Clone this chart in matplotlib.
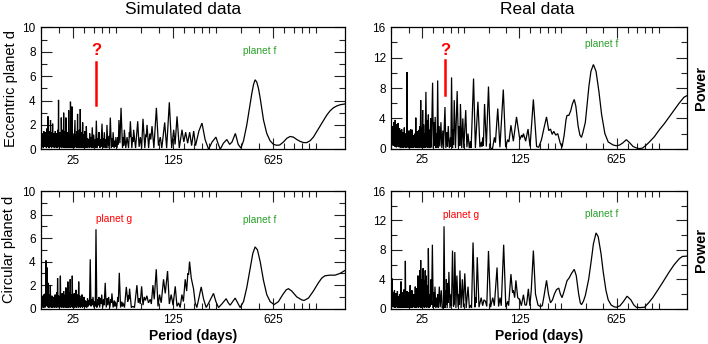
import matplotlib
matplotlib.use("Agg")
import matplotlib.pyplot as plt
from matplotlib.ticker import FixedLocator, NullFormatter

plt.rcParams['font.family'] = ['Liberation Sans', 'DejaVu Sans']

# ---------------- data (period in days, power) ----------------
tl_period = [15.0, 15.1, 15.2, 15.3, 15.4, 15.5, 15.6, 15.7, 15.8, 15.9, 16.0, 16.1, 16.2, 16.3, 16.4, 16.5, 16.6, 16.65,
             16.7, 16.8, 16.9, 17.0, 17.1, 17.2, 17.3, 17.35, 17.4, 17.5, 17.6, 17.7, 17.8, 17.9, 18.0, 18.1, 18.2, 18.3,
             18.4, 18.5, 18.6, 18.7, 18.8, 18.9, 19.0, 19.1, 19.2, 19.3, 19.4, 19.5, 19.6, 19.7, 19.8, 19.9, 20.0, 20.15,
             20.3, 20.45, 20.6, 20.65, 20.7, 20.85, 21.0, 21.15, 21.3, 21.4, 21.5, 21.65, 21.8, 21.95, 22.1, 22.2, 22.3,
             22.45, 22.6, 22.75, 22.9, 23.05, 23.2, 23.25, 23.3, 23.45, 23.6, 23.75, 23.9, 23.95, 24.0, 24.15, 24.3, 24.45,
             24.6, 24.75, 24.9, 25.1, 25.3, 25.45, 25.8, 26.0, 26.2, 26.4, 26.6, 26.75, 26.9, 27.1, 27.3, 27.5, 27.7, 27.9,
             28.1, 28.3, 28.5, 28.7, 28.9, 29.0, 29.2, 29.45, 29.7, 29.95, 30.2, 30.45, 30.7, 30.85, 31.0, 31.3, 31.6, 31.9,
             32.3, 32.5, 32.7, 33.0, 33.3, 33.6, 34.1, 34.5, 34.9, 35.3, 35.8, 36.0, 36.4, 36.9, 37.5, 37.7, 38.0, 38.5,
             38.9, 39.2, 39.9, 40.4, 40.9, 41.1, 41.4, 42.0, 42.5, 42.8, 43.2, 43.9, 44.6, 45.0, 45.6, 46.4, 47.0, 47.3,
             47.7, 48.5, 49.2, 49.5, 49.9, 50.8, 51.6, 51.9, 52.4, 53.2, 54.2, 55.5, 56.3, 56.6, 57.2, 58.5, 59.7, 61.2,
             62.0, 62.3, 63.0, 64.5, 65.4, 65.8, 66.4, 68.5, 70.9, 72.5, 74.0, 75.5, 77.2, 79.5, 80.8, 81.3, 82.4, 84.5,
             86.2, 87.5, 89.3, 92.0, 95.8, 99.0, 102.0, 104.5, 109.5, 113.0, 118.0, 122.5, 126.6, 129.5, 133.6, 138.5,
             144.7, 149.0, 153.5, 158.5, 163.8, 169.0, 174.7, 180.0, 190.0, 199.7, 210.0, 222.0, 235.0, 250.0, 260.0,
             268.0, 282.0, 298.0, 312.0, 324.0, 342.0, 358.0, 374.0, 390.0, 411.0, 434.0, 446.0, 458.0, 470.0, 483.0,
             496.0, 510.0, 524.0, 538.0, 567.0, 598.0, 632.0, 666.0, 698.0, 742.0, 783.0, 826.0, 871.0, 920.0, 970.0,
             1024.0, 1080.0, 1140.0, 1202.0, 1269.0, 1339.0, 1412.0, 1490.0, 1572.0, 1659.0, 1750.0, 1848.0, 2000.0]
tl_power = [1.0, 0.2, 1.3, 0.4, 1.1, 0.1, 1.5, 0.3, 0.9, 0.2, 1.4, 0.5, 1.2, 0.1, 1.7, 0.3, 1.0, 0.2,
            2.7, 0.3, 1.3, 0.1, 1.1, 0.4, 1.5, 0.2, 2.4, 0.3, 1.2, 0.1, 1.4, 0.5, 2.1, 0.2, 1.0, 0.4,
            1.3, 0.1, 1.1, 0.3, 1.5, 0.2, 0.9, 0.1, 1.3, 0.4, 1.0, 0.1, 1.6, 0.3, 4.05, 0.2, 1.2, 0.1,
            1.4, 0.3, 1.1, 0.2, 2.6, 0.1, 1.3, 0.4, 1.6, 0.2, 3.0, 0.1, 1.2, 0.3, 1.5, 0.1, 2.6,
            0.2, 1.0, 0.1, 1.4, 0.3, 1.1, 0.2, 3.2, 0.1, 1.3, 0.4, 1.0, 0.2, 3.9, 0.1, 1.2, 0.2,
            3.5, 0.1, 1.3, 0.3, 1.0, 0.1, 2.4, 0.2, 1.2, 0.1, 1.5, 0.3, 2.9, 0.1, 1.3, 0.2, 1.6, 0.1,
            3.3, 0.2, 1.1, 0.1, 1.4, 0.3, 2.2, 0.1, 1.2, 0.2, 1.5, 0.1, 1.0, 0.2, 1.9, 0.1, 0.9, 0.2,
            0.8, 0.1, 1.3, 0.2, 1.0, 0.1, 1.8, 0.1, 1.2, 0.2, 0.8, 0.1, 2.35, 0.1, 0.9, 0.3, 1.4, 0.1,
            0.8, 0.2, 2.1, 0.1, 0.9, 0.2, 1.4, 0.1, 0.8, 0.1, 2.0, 0.1, 1.1, 0.3, 2.6, 0.1, 0.9, 0.2,
            1.4, 0.1, 0.7, 0.2, 1.0, 0.1, 1.0, 0.4, 2.4, 0.5, 3.4, 0.1, 1.0, 0.3, 1.6, 0.1, 1.0, 0.1,
            1.4, 1.0, 2.3, 0.1, 1.0, 0.6, 1.6, 0.1, 2.3, 0.2, 1.0, 0.1, 2.5, 0.1, 1.2, 1.0, 2.0, 0.1,
            1.3, 0.8, 1.9, 0.1, 3.4, 0.3, 1.0, 0.1, 2.2, 0.1, 3.85, 0.1, 1.6, 0.4, 2.7, 0.1,
            1.6, 0.6, 1.4, 0.5, 1.4, 0.3, 1.5, 0.3, 1.5, 2.15, 0.8, 0.0, 0.6, 1.0, 0.4,
            0.0, 0.5, 0.8, 0.4, 0.6, 1.3, 0.4, 0.1, 0.7, 2.0, 3.7, 4.6, 5.3, 5.7, 5.5,
            5.0, 4.2, 3.3, 2.4, 1.3, 0.7, 0.4, 0.33, 0.35, 0.6, 0.9, 1.05, 1.0, 0.8, 0.65,
            0.55, 0.55, 0.7, 1.0, 1.45, 1.9, 2.35, 2.8, 3.15, 3.4, 3.55, 3.65, 3.72]

tr_period = [15.0, 15.2, 15.4, 15.5, 15.6, 15.7, 15.8, 15.9, 16.0, 16.1, 16.2, 16.3, 16.4, 16.5, 16.6, 16.7, 16.8, 16.9,
             17.0, 17.1, 17.2, 17.3, 17.4, 17.5, 17.6, 17.7, 17.8, 17.9, 18.0, 18.1, 18.2, 18.3, 18.4, 18.5, 18.6, 18.7,
             18.8, 18.9, 19.0, 19.1, 19.2, 19.3, 19.45, 19.6, 19.7, 19.8, 19.9, 20.0, 20.1, 20.2, 20.35, 20.5, 20.65,
             20.8, 20.95, 21.1, 21.25, 21.4, 21.55, 21.7, 21.85, 22.0, 22.2, 22.35, 22.5, 22.65, 22.8, 22.95, 23.1,
             23.25, 23.4, 23.55, 23.7, 23.85, 24.0, 24.2, 24.4, 24.6, 24.8, 25.0, 25.2, 25.4, 25.6, 25.8, 26.0, 26.2,
             26.6, 26.9, 27.2, 27.45, 27.7, 27.95, 28.2, 28.5, 28.8, 29.1, 29.7, 30.1, 30.5, 30.7, 31.0, 31.4, 31.8,
             32.0, 32.3, 32.7, 33.1, 33.5, 34.1, 34.6, 35.2, 35.6, 36.45, 37.0, 37.6, 38.0, 38.5, 39.2, 40.0, 40.2,
             40.65, 41.3, 41.8, 42.0, 42.5, 43.4, 44.6, 45.6, 46.3, 46.6, 47.1, 48.1, 49.0, 49.8, 51.4, 52.4, 53.4,
             54.5, 55.6, 56.2, 58.5, 60.3, 62.9, 65.0, 66.6, 67.2, 68.2, 68.8, 70.2, 72.3, 74.9, 77.5, 80.0, 82.6,
             84.0, 87.3, 90.5, 95.7, 99.5, 102.8, 105.0, 108.6, 113.0, 119.1, 125.8, 129.5, 131.5, 133.6, 138.5,
             144.1, 149.0, 157.4, 166.0, 172.0, 180.0, 188.0, 195.7, 203.0, 209.0, 215.0, 220.7, 228.0, 235.6, 245.0,
             253.0, 262.0, 270.0, 274.6, 283.0, 292.0, 300.0, 309.6, 318.0, 330.0, 340.0, 349.0, 358.0, 372.0, 385.0,
             395.0, 408.0, 425.0, 444.0, 466.0, 487.0, 514.0, 543.0, 589.0, 622.0, 657.0, 694.0, 733.0, 774.0, 820.0,
             870.0, 912.0, 960.0, 1020.0, 1074.0, 1166.0, 1265.0, 1373.0, 1490.0, 1618.0, 1755.0, 1905.0, 2000.0]
tr_power = [2.5, 0.5, 3.0, 0.4, 3.5, 0.8, 2.2, 0.3, 3.8, 0.6, 2.6, 0.2, 3.2, 1.0, 2.0, 0.3, 3.4, 0.5,
            1.8, 0.2, 2.7, 0.6, 1.5, 0.1, 2.4, 0.4, 2.6, 0.2, 1.6, 0.5, 2.2, 0.1, 1.4, 0.3, 2.8, 0.2,
            1.2, 0.4, 2.0, 0.1, 1.3, 0.2, 10.1, 0.2, 1.6, 0.3, 1.1, 0.1, 2.4, 0.2, 1.3, 0.1, 2.6,
            0.3, 1.4, 0.1, 2.5, 0.2, 1.8, 0.1, 1.2, 0.3, 2.0, 0.2, 4.1, 0.1, 1.5, 0.3, 2.3,
            0.1, 1.2, 0.4, 2.5, 0.1, 3.0, 0.3, 6.4, 0.1, 2.8, 0.4, 5.1, 0.1, 3.2, 0.2, 2.0, 0.1,
            7.5, 0.2, 3.8, 0.1, 4.5, 0.3, 2.5, 0.1, 4.0, 0.2, 8.7, 0.1, 3.5, 0.4, 4.2, 0.1, 2.0,
            0.2, 9.0, 0.1, 3.0, 0.3, 3.5, 0.1, 2.4, 0.2, 5.5, 0.1, 2.2, 0.3, 3.0, 0.1, 1.5, 0.3,
            9.4, 0.1, 2.5, 0.5, 6.4, 0.1, 7.6, 0.2, 3.0, 0.4, 5.9, 0.1, 4.0, 0.1, 5.1, 0.2, 2.0,
            0.1, 1.0, 0.1, 9.25, 0.1, 6.2, 0.2, 0.9, 0.3, 1.5, 0.4, 5.9, 0.3, 8.2, 0.1, 0.0, 1.5,
            0.8, 5.3, 0.2, 7.8, 0.2, 1.2, 0.9, 3.1, 1.0, 4.2, 1.2, 1.8, 1.5, 2.0, 1.0,
            2.6, 0.3, 6.5, 0.3, 0.2, 1.2, 2.8, 4.2, 2.4, 2.6, 1.9, 2.3, 1.8, 2.0, 0.8,
            0.2, 1.8, 3.8, 4.4, 4.4, 5.0, 5.9, 6.5, 5.6, 3.0, 1.8, 1.5, 2.2, 3.5, 6.2,
            8.3, 10.2, 11.1, 10.2, 7.5, 4.5, 2.0, 0.9, 0.5, 0.4, 0.5, 0.8, 1.2, 0.8, 0.3,
            0.1, 0.02, 0.1, 0.5, 0.9, 1.6, 2.5, 3.3, 4.2, 5.1, 6.0, 6.8, 7.0]

bl_period = [15.0, 15.1, 15.2, 15.3, 15.4, 15.5, 15.6, 15.7, 15.8, 15.9, 16.0, 16.08, 16.18, 16.3, 16.44, 16.55, 16.7,
             16.8, 16.9, 17.0, 17.1, 17.2, 17.35, 17.45, 17.6, 17.7, 17.8, 17.9, 18.0, 18.1, 18.3, 18.4, 18.5, 18.6,
             18.75, 18.85, 19.0, 19.1, 19.3, 19.4, 19.5, 19.65, 19.8, 19.95, 20.1, 20.2, 20.4, 20.55, 20.7, 20.85,
             21.0, 21.15, 21.3, 21.4, 21.5, 21.65, 21.8, 21.95, 22.1, 22.2, 22.3, 22.45, 22.6, 22.75, 22.9, 22.95,
             23.0, 23.15, 23.3, 23.45, 23.6, 23.75, 23.9, 24.05, 24.2, 24.35, 24.5, 24.6, 24.7, 24.9, 25.1, 25.3,
             25.5, 25.7, 25.9, 26.05, 26.2, 26.4, 26.6, 26.8, 27.0, 27.2, 27.4, 27.65, 27.9, 28.1, 28.4, 28.6, 28.9,
             29.1, 29.3, 29.5, 29.8, 30.1, 30.4, 30.65, 30.9, 31.2, 31.6, 31.9, 32.3, 32.6, 33.0, 33.4, 33.8, 34.1,
             34.5, 35.0, 35.5, 35.8, 36.2, 36.7, 37.3, 37.6, 37.9, 38.4, 39.0, 39.3, 39.7, 40.3, 40.9, 41.3, 42.0,
             42.7, 43.4, 43.8, 44.4, 45.2, 46.0, 46.4, 46.8, 47.7, 48.6, 49.0, 49.4, 50.5, 51.5, 51.9, 52.7, 53.8,
             54.8, 55.4, 55.9, 57.3, 59.0, 60.4, 61.0, 61.5, 62.2, 64.0, 65.6, 67.3, 70.0, 71.5, 72.7, 73.8, 75.5,
             77.2, 78.8, 80.3, 82.2, 84.3, 86.75, 88.3, 90.6, 92.5, 95.6, 98.3, 100.8, 103.5, 107.5, 110.5, 114.7,
             118.0, 121.6, 125.3, 129.8, 133.5, 137.0, 140.5, 144.5, 148.0, 152.4, 156.0, 159.0, 161.0, 163.4, 168.0,
             174.2, 179.0, 183.8, 190.0, 197.2, 205.0, 213.7, 225.0, 240.4, 250.0, 260.6, 275.0, 294.8, 305.0, 314.4,
             327.0, 340.8, 355.0, 369.3, 390.0, 411.0, 434.0, 453.0, 470.0, 488.0, 510.0, 538.0, 567.0, 599.0, 638.0,
             684.0, 734.0, 775.0, 804.0, 848.0, 920.0, 996.0, 1034.0, 1110.0, 1202.0, 1303.0, 1375.0, 1451.0, 1572.0,
             1704.0, 1848.0, 2000.0]
bl_power = [0.9, 0.1, 1.1, 0.3, 0.7, 0.1, 1.2, 0.2, 0.8, 0.1, 1.3, 0.2, 4.1, 0.3, 3.5, 0.2, 2.2,
            0.1, 1.0, 0.3, 1.2, 0.1, 2.0, 0.2, 0.9, 0.1, 1.1, 0.3, 0.7, 0.1, 1.0, 0.2, 0.8, 0.1,
            1.2, 0.3, 0.9, 0.1, 1.4, 0.2, 2.6, 0.1, 1.1, 0.3, 0.8, 0.1, 2.8, 0.2, 1.0, 0.1,
            1.3, 0.3, 0.8, 0.1, 1.5, 0.2, 1.0, 0.1, 1.2, 0.3, 1.8, 0.1, 1.1, 0.2, 0.7, 0.1,
            2.3, 0.2, 1.0, 0.1, 1.4, 0.3, 2.5, 0.1, 1.2, 0.2, 0.9, 0.2, 2.8, 0.1, 1.1, 0.3,
            1.3, 0.1, 0.9, 0.2, 1.6, 0.1, 1.0, 0.3, 1.2, 0.1, 2.3, 0.2, 1.1, 0.1, 0.9, 0.2, 1.2,
            0.1, 0.8, 0.2, 1.0, 0.1, 0.7, 0.2, 0.6, 0.1, 0.9, 0.2, 0.7, 0.3, 4.2, 0.2, 0.8, 0.3,
            1.0, 0.1, 0.6, 0.2, 6.75, 0.1, 0.8, 0.3, 1.0, 0.1, 0.9, 0.4, 1.2, 0.1, 0.8, 0.3, 2.2,
            0.1, 0.9, 0.3, 1.0, 0.1, 0.8, 0.5, 1.3, 0.1, 0.7, 0.2, 0.6, 0.1, 1.0, 0.6, 3.05, 0.1,
            0.6, 0.2, 0.5, 0.1, 1.85, 0.6, 1.1, 0.8, 1.7, 0.1, 0.2, 0.1, 2.0, 0.5, 0.9, 0.4, 1.9,
            0.3, 1.0, 0.7, 1.1, 0.5, 0.8, 0.4, 2.0, 0.8, 3.35, 0.2, 1.2, 0.5, 2.5, 1.3, 3.2,
            0.4, 1.2, 0.3, 1.9, 0.2, 0.5, 0.1, 1.2, 0.6, 2.5, 1.5, 3.0, 2.9, 4.0, 2.6,
            1.7, 0.5, 0.1, 0.9, 1.85, 0.8, 0.1, 0.6, 1.3, 0.6, 0.1, 0.4, 0.85, 0.5, 0.3,
            0.6, 0.9, 0.5, 0.1, 0.6, 1.8, 3.4, 4.7, 5.25, 5.0, 4.0, 2.4, 1.2, 0.6, 0.35,
            0.6, 1.2, 1.6, 1.7, 1.5, 1.0, 0.75, 0.7, 0.9, 1.5, 2.2, 2.6, 2.8, 2.85,
            2.85, 3.0, 3.25]

br_period = [15.0, 15.1, 15.2, 15.3, 15.4, 15.5, 15.6, 15.7, 15.8, 15.9, 16.0, 16.1, 16.2, 16.3, 16.4, 16.5, 16.6, 16.7,
             16.8, 16.9, 17.0, 17.1, 17.2, 17.3, 17.45, 17.5, 17.6, 17.7, 17.8, 17.9, 18.0, 18.1, 18.2, 18.3, 18.45,
             18.55, 18.7, 18.8, 18.93, 19.05, 19.2, 19.3, 19.45, 19.55, 19.7, 19.8, 19.95, 20.05, 20.2, 20.3, 20.5,
             20.65, 20.8, 20.95, 21.1, 21.25, 21.4, 21.55, 21.7, 21.85, 22.0, 22.15, 22.3, 22.45, 22.6, 22.75, 22.9,
             23.05, 23.3, 23.5, 23.7, 23.85, 24.0, 24.2, 24.4, 24.6, 24.8, 25.0, 25.2, 25.4, 25.6, 25.8, 26.0, 26.3,
             26.5, 26.6, 26.9, 27.3, 27.5, 27.7, 28.0, 28.3, 28.6, 29.0, 29.2, 29.6, 30.0, 30.4, 30.6, 30.9, 31.3,
             31.8, 32.0, 32.3, 32.7, 33.2, 33.7, 34.3, 34.8, 35.5, 35.9, 36.4, 36.9, 37.1, 37.3, 37.8, 38.3, 38.5,
             38.9, 39.6, 40.3, 40.6, 41.3, 42.0, 42.3, 42.5, 42.9, 43.7, 44.4, 45.3, 45.9, 46.2, 46.7, 47.6, 48.6,
             49.5, 50.6, 51.8, 53.4, 54.6, 56.0, 56.6, 58.0, 59.8, 60.5, 61.0, 62.2, 64.0, 66.4, 68.0, 69.5, 71.3,
             72.8, 74.9, 77.5, 80.4, 82.5, 86.3, 88.5, 90.7, 92.5, 96.3, 99.8, 102.8, 104.5, 108.6, 111.5, 113.0,
             115.5, 117.9, 121.5, 125.8, 129.0, 133.6, 137.0, 140.3, 142.0, 144.9, 148.5, 152.0, 157.4, 163.0, 169.9,
             176.0, 182.4, 188.0, 195.7, 202.0, 209.0, 216.0, 223.0, 231.0, 239.6, 246.0, 253.0, 262.0, 274.6, 285.0,
             296.0, 309.6, 320.0, 333.0, 342.0, 349.0, 360.0, 372.0, 393.0, 410.0, 425.0, 444.0, 460.0, 482.0, 500.0,
             523.0, 543.0, 570.0, 600.0, 622.5, 660.0, 700.0, 742.0, 790.0, 830.0, 864.0, 920.0, 990.0, 1060.0,
             1135.0, 1230.0, 1340.0, 1490.0, 1620.0, 1760.0, 1854.0, 2000.0]
br_power = [2.0, 0.3, 4.1, 0.5, 2.2, 0.2, 1.8, 0.4, 2.5, 0.1, 1.6, 0.3, 2.1, 0.2, 1.4, 0.5, 2.4, 0.1,
            1.7, 0.3, 1.2, 0.1, 2.0, 0.4, 1.5, 0.2, 3.7, 0.1, 1.3, 0.3, 2.2, 0.1, 1.6, 0.4, 2.6,
            0.1, 1.4, 0.2, 6.5, 0.1, 1.8, 0.3, 2.4, 0.1, 1.5, 0.4, 2.2, 0.1, 1.3, 0.2, 3.2,
            0.1, 1.6, 0.3, 2.5, 0.1, 1.4, 0.2, 2.0, 0.4, 1.2, 0.1, 3.0, 0.2, 2.2, 0.1, 2.8,
            0.3, 4.5, 0.1, 3.2, 0.4, 5.2, 0.2, 6.6, 0.1, 4.0, 0.3, 5.0, 5.5, 0.2, 3.8, 0.1, 5.2,
            0.3, 4.5, 0.1, 3.2, 0.2, 8.2, 0.1, 2.0, 0.3, 4.0, 0.5, 8.7, 0.1, 2.2, 0.3, 3.0, 0.1,
            1.5, 0.2, 2.0, 0.1, 3.0, 0.2, 2.5, 0.1, 0.1, 11.2, 0.1, 2.5, 0.5, 4.0, 0.1, 3.5, 0.8,
            5.0, 0.1, 2.0, 0.4, 7.9, 0.3, 1.5, 0.6, 7.7, 0.1, 4.5, 0.2, 2.0, 0.5, 5.2, 0.1, 4.0,
            0.2, 4.8, 0.1, 3.0, 0.1, 0.5, 0.1, 9.0, 0.2, 1.5, 0.8, 7.0, 0.2, 1.5, 0.4, 1.2, 1.0,
            0.3, 7.85, 0.2, 1.5, 0.4, 5.6, 0.3, 1.5, 0.4, 8.7, 0.2, 1.0, 0.4, 4.7, 2.2, 2.5,
            1.5, 3.85, 1.5, 1.2, 0.4, 1.9, 0.5, 0.5, 1.2, 2.7, 0.4, 2.5, 7.9, 2.0, 0.5,
            0.3, 0.4, 1.8, 3.85, 2.0, 0.8, 1.2, 2.0, 2.6, 2.8, 2.0, 1.5, 2.4, 3.8, 4.2,
            4.8, 5.35, 4.5, 2.0, 0.8, 0.55, 1.0, 1.8, 4.0, 6.5, 8.8, 10.3, 9.8, 7.5, 5.0,
            2.5, 1.2, 0.5, 0.25, 0.2, 0.4, 1.0, 1.7, 1.2, 0.5, 0.2, 0.15, 0.2, 0.8,
            1.5, 2.5, 3.6, 5.0, 6.0, 6.8, 7.1, 7.15]

# tick values
major_periods = [25, 125, 625]
minor_periods = [15, 20, 30, 35, 40, 45, 50, 75, 100, 150, 175, 200, 225, 250, 375, 500,
                 750, 875, 1000, 1125, 1250]
left_yticks = [0, 2, 4, 6, 8, 10]
left_yminor = [1, 3, 5, 7, 9]
right_yticks = [0, 4, 8, 12, 16]
right_yminor = [2, 6, 10, 14]

# annotations
question_period = 36.4
tl_question = [8.1, 3.63, 7.18]      # text y, line bottom, line top
tr_question = [13.0, 7.05, 11.7]
planet_f_period = [503, 487]
planet_f_y = [8.08, 13.8, 7.55, 12.9]
planet_g_period = [48.1, 47.9]
planet_g_y = [7.65, 12.7]

RED = '#ff0000'
GREEN = '#2aa02a'

fig = plt.figure(figsize=(7.08, 3.44), dpi=100)
W, H = 708.0, 344.0


def make_ax(x0, x1, y0, y1):
    return fig.add_axes([x0 / W, 1 - y1 / H, (x1 - x0) / W, (y1 - y0) / H])


ax_tl = make_ax(41.3, 345.0, 27.3, 149.3)
ax_tr = make_ax(391.3, 687.0, 27.3, 148.8)
ax_bl = make_ax(41.3, 345.0, 191.0, 308.7)
ax_br = make_ax(391.3, 687.0, 191.0, 308.7)

panels = [
    (ax_tl, tl_period, tl_power, 10, left_yticks, left_yminor),
    (ax_tr, tr_period, tr_power, 16, right_yticks, right_yminor),
    (ax_bl, bl_period, bl_power, 10, left_yticks, left_yminor),
    (ax_br, br_period, br_power, 16, right_yticks, right_yminor),
]

for ax, per, pw, ymax, yt, ym in panels:
    ax.plot(per, pw, color='black', lw=0.9, solid_joinstyle='miter')
    ax.set_xscale('log')
    ax.set_xlim(15, 2000)
    ax.set_ylim(0, ymax)
    ax.xaxis.set_major_locator(FixedLocator(major_periods))
    ax.xaxis.set_minor_locator(FixedLocator(minor_periods))
    ax.xaxis.set_minor_formatter(NullFormatter())
    ax.set_xticklabels([str(v) for v in major_periods])
    ax.yaxis.set_major_locator(FixedLocator(yt))
    ax.yaxis.set_minor_locator(FixedLocator(ym))
    ax.set_yticklabels([str(v) for v in yt])
    ax.tick_params(which='both', direction='in', top=True, right=True, labelsize=8.5,
                   width=0.8, color='#222222')
    ax.tick_params(which='major', length=8, pad=4)
    ax.tick_params(which='minor', length=4)
    for s in ax.spines.values():
        s.set_linewidth(0.9)

# question marks on top panels
for ax, q in [(ax_tl, tl_question), (ax_tr, tr_question)]:
    ax.text(question_period, q[0], '?', color=RED, fontsize=12, fontweight='bold',
            ha='center', va='center')
    ax.plot([question_period, question_period], [q[1], q[2]], color=RED, lw=1.8)

# planet labels
ax_tl.text(planet_f_period[0], planet_f_y[0], 'planet f', color=GREEN, fontsize=7.3, ha='center', va='center')
ax_tr.text(planet_f_period[1], planet_f_y[1], 'planet f', color=GREEN, fontsize=7.3, ha='center', va='center')
ax_bl.text(planet_f_period[0], planet_f_y[2], 'planet f', color=GREEN, fontsize=7.3, ha='center', va='center')
ax_br.text(planet_f_period[1], planet_f_y[3], 'planet f', color=GREEN, fontsize=7.3, ha='center', va='center')
ax_bl.text(planet_g_period[0], planet_g_y[0], 'planet g', color=RED, fontsize=7.3, ha='center', va='center')
ax_br.text(planet_g_period[1], planet_g_y[1], 'planet g', color=RED, fontsize=7.3, ha='center', va='center')

# titles
fig.text(183 / W, 1 - 10 / H, 'Simulated data', fontsize=12.5, ha='center', va='center')
fig.text(537 / W, 1 - 10 / H, 'Real data', fontsize=12.5, ha='center', va='center')

# axis labels
ax_tl.set_ylabel('Eccentric planet d', fontsize=10.5, va='center')
ax_tl.yaxis.set_label_coords(-0.100, 0.5)
ax_bl.set_ylabel('Circular planet d', fontsize=10.5, va='center')
ax_bl.yaxis.set_label_coords(-0.105, 0.5)
for ax in (ax_tr, ax_br):
    ax.yaxis.set_label_position('right')
    ax.set_ylabel('Power', fontsize=10.5, fontweight='bold', rotation=90, va='center')
    ax.yaxis.set_label_coords(1.046, 0.5)
for ax in (ax_bl, ax_br):
    ax.set_xlabel('Period (days)', fontsize=10, fontweight='bold', labelpad=2)

fig.savefig('out.png', dpi=100)
